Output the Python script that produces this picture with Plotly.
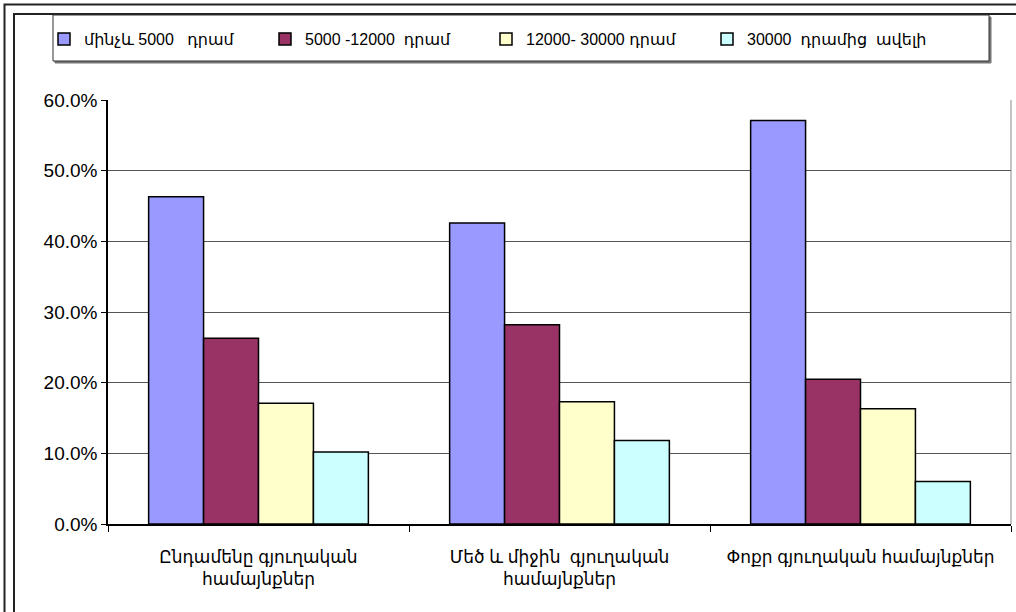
import plotly.graph_objects as go

categories = ["Ընդամենը գյուղական<br>համայնքներ",
              "Մեծ և միջին  գյուղական<br>համայնքներ",
              "Փոքր գյուղական համայնքներ"]
series_names = ["մինչև 5000   դրամ", "5000 -12000  դրամ",
                "12000- 30000 դրամ", "30000  դրամից  ավելի"]
s1 = [0.463, 0.426, 0.571]
s2 = [0.263, 0.282, 0.205]
s3 = [0.171, 0.173, 0.163]
s4 = [0.102, 0.118, 0.060]
colors = ["#9999FF", "#993366", "#FFFFCC", "#CCFFFF"]
y_ticks = [0, 0.1, 0.2, 0.3, 0.4, 0.5, 0.6]

W, H = 1016, 612
L, R, T, B = 108, 5, 100, 88
PW, PH = W - L - R, H - T - B

def px(x):
    return (x - L) / PW

def py(y):
    return (H - B - y) / PH

FONT = "Liberation Sans, Arial, DejaVu Sans, sans-serif"

fig = go.Figure()
for name, vals, col in zip(series_names, [s1, s2, s3, s4], colors):
    fig.add_trace(go.Bar(x=categories, y=vals, name=name,
                         marker=dict(color=col, line=dict(color="black", width=1.5))))

shapes = [
    # outer frame (double line)
    dict(type="rect", xref="paper", yref="paper", x0=px(4.5), y0=py(700), x1=px(1100), y1=py(4.5),
         line=dict(color="#222", width=2), fillcolor="rgba(0,0,0,0)", layer="below"),
    dict(type="rect", xref="paper", yref="paper", x0=px(14), y0=py(700), x1=px(1100), y1=py(14),
         line=dict(color="#222", width=2), fillcolor="rgba(0,0,0,0)", layer="below"),
    # legend shadow + box
    dict(type="rect", xref="paper", yref="paper", x0=px(55), y0=py(63), x1=px(991), y1=py(17),
         line=dict(color="#777", width=1), fillcolor="#777", layer="below"),
    dict(type="rect", xref="paper", yref="paper", x0=px(53), y0=py(61), x1=px(989), y1=py(15),
         line=dict(color="#333", width=1), fillcolor="white", layer="below"),
    # right border of plot area
    dict(type="line", xref="paper", yref="paper", x0=1, x1=1, y0=0, y1=1,
         line=dict(color="#888", width=1)),
]

fig.update_layout(
    width=W, height=H,
    margin=dict(l=L, r=R, t=T, b=B),
    paper_bgcolor="white", plot_bgcolor="white",
    font=dict(family=FONT, size=16, color="black"),
    barmode="group", bargap=0.27, bargroupgap=0,
    showlegend=True,
    legend=dict(orientation="h", x=px(44), y=py(22), xanchor="left", yanchor="top",
                bgcolor="rgba(0,0,0,0)", borderwidth=0,
                font=dict(family=FONT, size=16),
                entrywidth=176, entrywidthmode="pixels",
                itemwidth=30, tracegroupgap=0),
    shapes=shapes,
)
fig.update_xaxes(type="category", showline=True, linecolor="black", linewidth=1.5,
                 ticks="outside", tickson="boundaries", ticklen=6, tickcolor="black",
                 showgrid=False, tickfont=dict(family=FONT, size=17),
                 ticklabelstandoff=17)
fig.update_yaxes(range=[0, 0.6], tickvals=y_ticks, tickformat=".1%",
                 showline=True, linecolor="black", linewidth=1.5,
                 ticks="outside", ticklen=5, tickcolor="black",
                 showgrid=True, gridcolor="#555", gridwidth=1, zeroline=False,
                 tickfont=dict(family=FONT, size=19))

fig.write_html("out.html", config={"displayModeBar": False},
               post_script="document.body.style.margin='0';document.body.style.overflow='hidden';")
